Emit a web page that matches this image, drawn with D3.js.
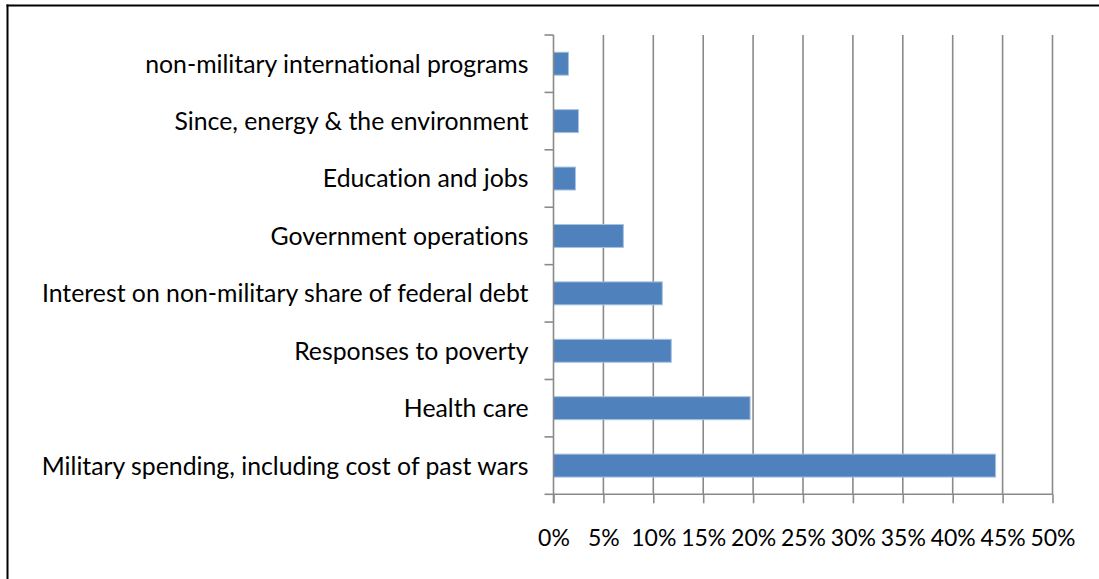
<!DOCTYPE html>
<html>
<head>
<meta charset="utf-8">
<script src="https://cdn.jsdelivr.net/npm/d3@7"></script>
<style>
  html, body { margin: 0; padding: 0; background: #fff; }
  svg { display: block; }
  text { font-family: Lato, "Open Sans", sans-serif; fill: #000; font-variant-ligatures: none; }
</style>
</head>
<body>
<svg id="chart" width="1099" height="579"></svg>
<script>
// Share of federal spending by area (percent), listed top to bottom
const categories = [
  "non-military international programs",
  "Since, energy & the environment",
  "Education and jobs",
  "Government operations",
  "Interest on non-military share of federal debt",
  "Responses to poverty",
  "Health care",
  "Military spending, including cost of past wars"
];
const shares = [1.5, 2.5, 2.2, 7.0, 10.9, 11.8, 19.7, 44.3];
const tickValues = [0, 5, 10, 15, 20, 25, 30, 35, 40, 45, 50];

const rows = categories.map((c, i) => ({ category: c, value: shares[i] }));

const svg = d3.select("#chart");
const plot = { left: 553.5, right: 1052.5, top: 35, bottom: 494.3 };
const labelSize = 24.8;
const tickSize = 23;

const x = d3.scaleLinear().domain([0, 50]).range([plot.left, plot.right]);
const y = d3.scaleBand()
  .domain(categories)
  .range([plot.top, plot.bottom])
  .paddingInner(0.6)
  .paddingOuter(0.3);

// chart frame (top and left edges)
svg.append("line").attr("x1", 6.5).attr("x2", 1099).attr("y1", 5.5).attr("y2", 5.5)
  .attr("stroke", "#000").attr("stroke-width", 2);
svg.append("line").attr("x1", 7.5).attr("x2", 7.5).attr("y1", 4.5).attr("y2", 579)
  .attr("stroke", "#000").attr("stroke-width", 2);

// vertical gridlines
svg.append("g")
  .selectAll("line")
  .data(tickValues.slice(1))
  .join("line")
  .attr("x1", d => x(d)).attr("x2", d => x(d))
  .attr("y1", plot.top).attr("y2", plot.bottom)
  .attr("stroke", "#8a8a8a").attr("stroke-width", 1.6);

// bars
svg.append("g")
  .selectAll("rect")
  .data(rows)
  .join("rect")
  .attr("x", x(0))
  .attr("y", d => y(d.category))
  .attr("width", d => x(d.value) - x(0))
  .attr("height", y.bandwidth())
  .attr("fill", "#4f81bd")
  .attr("stroke", "#a9c1e0")
  .attr("stroke-width", 1);

// bottom axis
const xAxis = d3.axisBottom(x)
  .tickValues(tickValues)
  .tickSize(9)
  .tickPadding(26)
  .tickFormat(d => d + "%");
const gx = svg.append("g").attr("transform", `translate(0,${plot.bottom})`).call(xAxis);
gx.select(".domain").attr("stroke", "#8a8a8a").attr("stroke-width", 1.6)
  .attr("d", `M${plot.left},0H${plot.right}`);
gx.selectAll(".tick line").attr("stroke", "#8a8a8a").attr("stroke-width", 1.6);
gx.selectAll(".tick text").attr("font-size", tickSize).attr("font-family", "Lato, 'Open Sans', sans-serif")
  .attr("fill", "#000");

// left axis: ticks at category boundaries
const boundaries = d3.range(categories.length + 1)
  .map(i => plot.top + i * y.step());
svg.append("line")
  .attr("x1", plot.left).attr("x2", plot.left)
  .attr("y1", plot.top).attr("y2", plot.bottom + 9)
  .attr("stroke", "#8a8a8a").attr("stroke-width", 1.6);
svg.append("g")
  .selectAll("line")
  .data(boundaries)
  .join("line")
  .attr("x1", plot.left - 9).attr("x2", plot.left)
  .attr("y1", d => d).attr("y2", d => d)
  .attr("stroke", "#8a8a8a").attr("stroke-width", 1.6);

// category labels
svg.append("g")
  .selectAll("text")
  .data(categories)
  .join("text")
  .attr("x", plot.left - 25)
  .attr("y", d => y(d) + y.bandwidth() / 2)
  .attr("dy", "0.36em")
  .attr("text-anchor", "end")
  .attr("font-size", labelSize)
  .text(d => d);
</script>
</body>
</html>
